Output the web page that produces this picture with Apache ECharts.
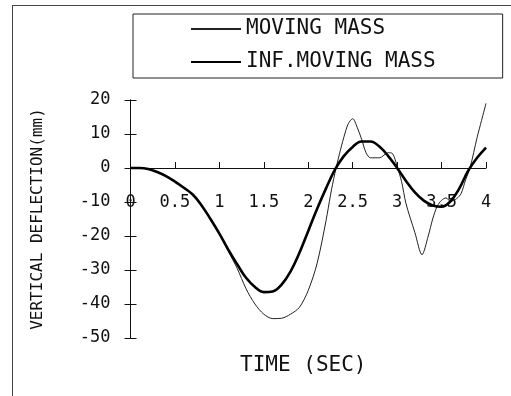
<!DOCTYPE html>
<html><head><meta charset="utf-8">
<script src="https://cdn.jsdelivr.net/npm/echarts@6/dist/echarts.min.js"></script>
<style>html,body{margin:0;padding:0;background:#fff}#c{width:511px;height:396px}</style>
</head><body><div id="c"></div>
<script>
const seriesNames = ['MOVING MASS', 'INF.MOVING MASS'];
const xAxisTitle = 'TIME (SEC)';
const yAxisTitle = 'VERTICAL DEFLECTION(mm)';

const thinTime = [0,0.1,0.2,0.3,0.4,0.5,0.6,0.7,0.8,0.9,1.0,1.1,1.2,1.3,1.4,1.5,1.6,1.7,1.8,1.9,2.0,2.1,2.2,2.25,2.3,2.35,2.4,2.45,2.5,2.55,2.6,2.65,2.7,2.8,2.9,2.95,3.0,3.05,3.1,3.2,3.28,3.35,3.4,3.45,3.5,3.55,3.6,3.67,3.72,3.77,3.82,3.9,3.95,4.0];
const thinDefl = [0,0,-0.3,-1.2,-2.4,-4,-5.8,-7.8,-11,-15,-19.3,-24.5,-29.5,-35.5,-40,-43,-44.3,-44.2,-43,-41,-36,-28,-15.5,-8,-1.5,4,9,13,14.5,12,8.5,4.5,3,3,4.5,4.2,0.5,-4,-10.5,-19,-25.5,-20,-15,-11.3,-9.5,-8.8,-9.8,-9,-7.5,-3.5,0,9,14,19];

const thickTime = [0,0.1,0.2,0.3,0.4,0.5,0.6,0.7,0.8,0.9,1.0,1.1,1.2,1.3,1.4,1.5,1.6,1.7,1.8,1.9,2.0,2.1,2.2,2.3,2.4,2.5,2.6,2.7,2.8,2.9,3.0,3.1,3.2,3.3,3.4,3.5,3.6,3.7,3.8,3.9,4.0];
const thickDefl = [0,0,-0.3,-1.2,-2.4,-4,-5.8,-7.8,-11,-15,-19.3,-24,-28.3,-32.3,-35,-36.5,-36.3,-34.3,-30.5,-25,-18.5,-12,-6,-0.5,3.5,6.2,7.8,7.8,6.3,3.5,0,-3.8,-7.2,-9.6,-11,-11.4,-9.8,-6,-0.8,3,6];

const xTicks = [0,0.5,1,1.5,2,2.5,3,3.5,4];
const yTicks = [-50,-40,-30,-20,-10,0,10,20];

const FONT = 'DejaVu Sans Mono';
const chart = echarts.init(document.getElementById('c'), null, {renderer:'canvas'});
const pair = (t, v) => t.map((x, i) => [x, v[i]]);
const xMin = xTicks[0], xMax = xTicks[xTicks.length-1];
const yMin = yTicks[0], yMax = yTicks[yTicks.length-1];

chart.setOption({
  backgroundColor: '#fff',
  animation: false,
  graphic: [
    {type:'line', shape:{x1:12, y1:5.5, x2:511, y2:5.5}, style:{stroke:'#444', lineWidth:1}},
    {type:'line', shape:{x1:12.5, y1:5, x2:12.5, y2:396}, style:{stroke:'#444', lineWidth:1}}
  ],
  legend: {
    orient: 'vertical', left: 133, top: 14,
    padding: [3, 67, 4, 57], itemGap: 9,
    borderColor: '#222', borderWidth: 1,
    itemWidth: 50, itemHeight: 14,
    itemStyle: {color: 'transparent', borderWidth: 0, opacity: 0},
    textStyle: {fontFamily: FONT, fontSize: 21, color: '#111', lineHeight: 24},
    data: seriesNames
  },
  grid: [
    {left: 130.5, right: 25, top: 100, bottom: 58, outerBoundsMode: 'none'},
    {left: 130.5, right: 25, top: 100, bottom: 228, outerBoundsMode: 'none'},
    {left: 130.5, right: 25, top: 100, bottom: 58, outerBoundsMode: 'none'}
  ],
  xAxis: [{
    gridIndex: 0, type: 'value', min: xMin, max: xMax, interval: 0.5,
    axisLine: {onZero: true, lineStyle: {color: '#111', width: 1}},
    axisTick: {inside: true, length: 6, lineStyle: {color: '#111'}},
    axisLabel: {show: false},
    splitLine: {show: false}
  }, {
    gridIndex: 1, type: 'value', min: xMin, max: xMax, interval: 0.5,
    name: xAxisTitle, nameLocation: 'middle', nameGap: 187,
    nameTextStyle: {fontFamily: FONT, fontSize: 21, color: '#111', padding: [0, 10, 0, 0]},
    axisLine: {show: false}, axisTick: {show: false},
    axisLabel: {margin: 26, fontFamily: FONT, fontSize: 17, color: '#111', showMinLabel: true, showMaxLabel: true},
    splitLine: {show: false}
  }, {
    gridIndex: 2, type: 'value', min: xMin, max: xMax, show: false
  }],
  yAxis: [{
    gridIndex: 0, type: 'value', min: yMin, max: yMax, interval: 10,
    name: yAxisTitle, nameLocation: 'middle', nameGap: 85,
    nameTextStyle: {fontFamily: FONT, fontSize: 16, color: '#111'},
    axisLine: {show: true, onZero: false, lineStyle: {color: '#111', width: 1}},
    axisTick: {show: true, inside: false, length: 6, lineStyle: {color: '#111'}},
    axisLabel: {margin: 20, fontFamily: FONT, fontSize: 17, color: '#111'},
    splitLine: {show: false}
  }, {
    gridIndex: 1, type: 'value', min: 0, max: 1, show: false
  }, {
    gridIndex: 2, type: 'value', position: 'left', min: yMin, max: yMax, interval: 10,
    axisLine: {show: true, onZero: false, lineStyle: {color: '#111', width: 1}},
    axisTick: {show: true, inside: true, length: 6, lineStyle: {color: '#111'}},
    axisLabel: {show: false},
    splitLine: {show: false}
  }],
  series: [{
    name: seriesNames[0], type: 'line', symbol: 'none', smooth: 0.3,
    xAxisIndex: 0, yAxisIndex: 0,
    lineStyle: {color: '#222', width: 1},
    itemStyle: {color: '#222'},
    data: pair(thinTime, thinDefl)
  }, {
    name: seriesNames[1], type: 'line', symbol: 'none', smooth: 0.4,
    xAxisIndex: 0, yAxisIndex: 0,
    lineStyle: {color: '#000', width: 2.6},
    itemStyle: {color: '#000'},
    data: pair(thickTime, thickDefl)
  }]
});
</script>
</body></html>
